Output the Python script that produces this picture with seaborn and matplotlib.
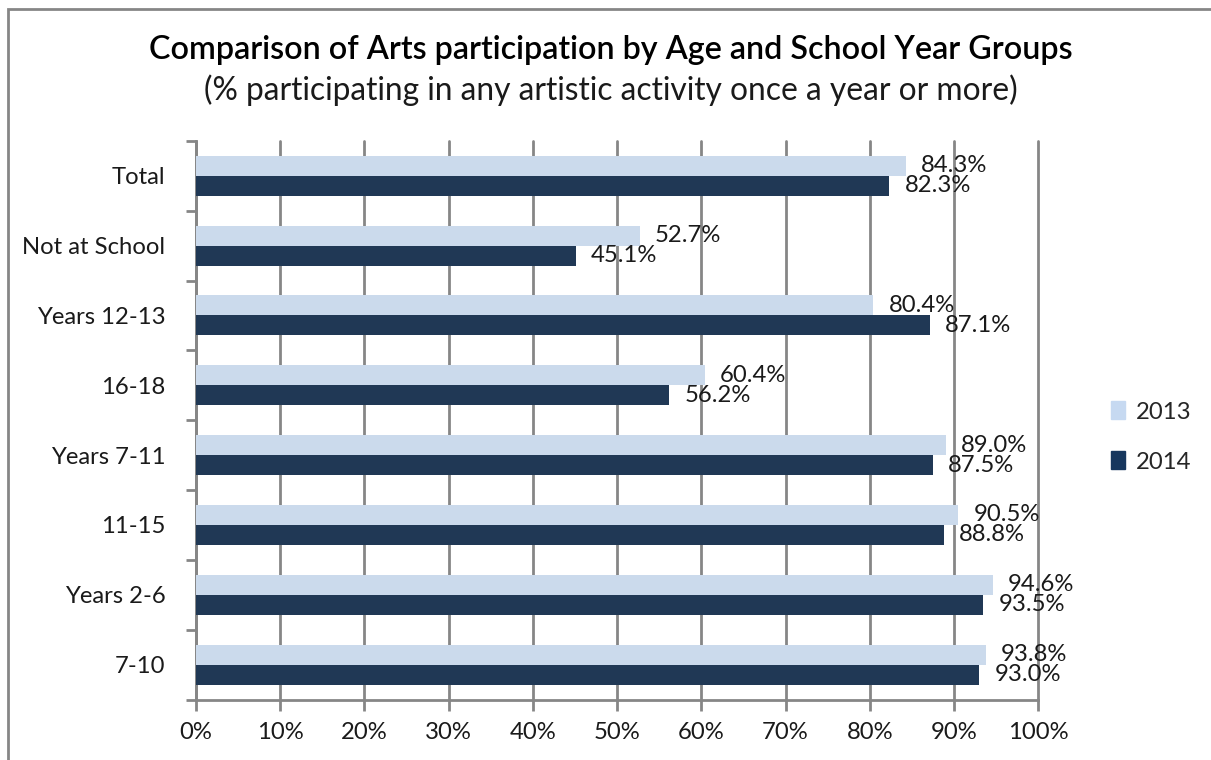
import matplotlib
matplotlib.use("Agg")
from matplotlib import pyplot as plt
from matplotlib.patches import Rectangle
import pandas as pd
import seaborn as sns

# data (% participating)
groups = ["Total", "Not at School", "Years 12-13", "16-18",
          "Years 7-11", "11-15", "Years 2-6", "7-10"]
pct_2013 = [84.3, 52.7, 80.4, 60.4, 89.0, 90.5, 94.6, 93.8]
pct_2014 = [82.3, 45.1, 87.1, 56.2, 87.5, 88.8, 93.5, 93.0]
years = ["2013", "2014"]
x_ticks = [0, 10, 20, 30, 40, 50, 60, 70, 80, 90, 100]

df = pd.DataFrame({
    "group": groups * 2,
    "year": [years[0]] * len(groups) + [years[1]] * len(groups),
    "pct": pct_2013 + pct_2014,
})

sns.set_theme(style="white")
plt.rcParams["font.family"] = ["Lato", "DejaVu Sans"]

grey = "#868686"
txt = "#1a1a1a"
fs = 17.2
colors = {"2013": "#C6D9F1", "2014": "#17375E"}

fig = plt.figure(figsize=(12.11, 7.60), dpi=100)
ax = fig.add_axes([0.1618, 0.0796, 0.6955, 0.735])

sns.barplot(data=df, x="pct", y="group", hue="year", order=groups,
            hue_order=years, palette=colors, orient="h", width=0.572,
            ax=ax, legend=False, edgecolor="none", zorder=3)

# value labels
for cont in ax.containers:
    ax.bar_label(cont, labels=[f"{v:.1f}%" for v in cont.datavalues],
                 padding=11, fontsize=fs, color=txt, zorder=4)

ax.set_xlim(0, 100)
ax.set_ylim(len(groups) - 0.5, -0.5)
ax.set_xticks(x_ticks)
ax.set_xticklabels([f"{t}%" for t in x_ticks])
ax.set_xlabel("")
ax.set_ylabel("")

ax.grid(axis="x", color=grey, linewidth=2, zorder=0)
ax.grid(axis="y", visible=False)
# keep the 100% gridline full width at the axes edge
for gl in ax.get_xgridlines():
    gl.set_clip_on(False)
for s in ["top", "right"]:
    ax.spines[s].set_visible(False)
for s in ["left", "bottom"]:
    ax.spines[s].set_color(grey)
    ax.spines[s].set_linewidth(2)

ax.tick_params(axis="x", which="major", direction="out", length=8, width=2,
               color=grey, labelsize=fs, labelcolor=txt, pad=8, bottom=True)
ax.tick_params(axis="y", which="major", length=0, labelsize=fs,
               labelcolor=txt, pad=22)
ax.set_yticks([i - 0.5 for i in range(len(groups) + 1)], minor=True)
ax.tick_params(axis="y", which="minor", direction="out", length=7, width=2,
               color=grey, left=True)

# legend
handles = [Rectangle((0, 0), 1, 1, color=colors[y]) for y in years]
fig.legend(handles, years, loc="center left", bbox_to_anchor=(0.9, 0.425),
           frameon=False, fontsize=fs, handlelength=0.58, handleheight=0.78,
           handletextpad=0.43, labelspacing=1.2)

fig.text(0.504, 0.934, "Comparison of Arts participation by Age and School Year Groups",
         ha="center", va="center", fontsize=23.2, fontweight="semibold", color="black")
fig.text(0.504, 0.881, "(% participating in any artistic activity once a year or more)",
         ha="center", va="center", fontsize=22.9, color=txt)

# outer chart border
fig.patches.append(Rectangle((8 / 1211, -0.05), 1.1, 1 - 9 / 760 + 0.05,
                             transform=fig.transFigure, fill=False,
                             edgecolor=grey, linewidth=2))

fig.savefig("out.png", dpi=100)
